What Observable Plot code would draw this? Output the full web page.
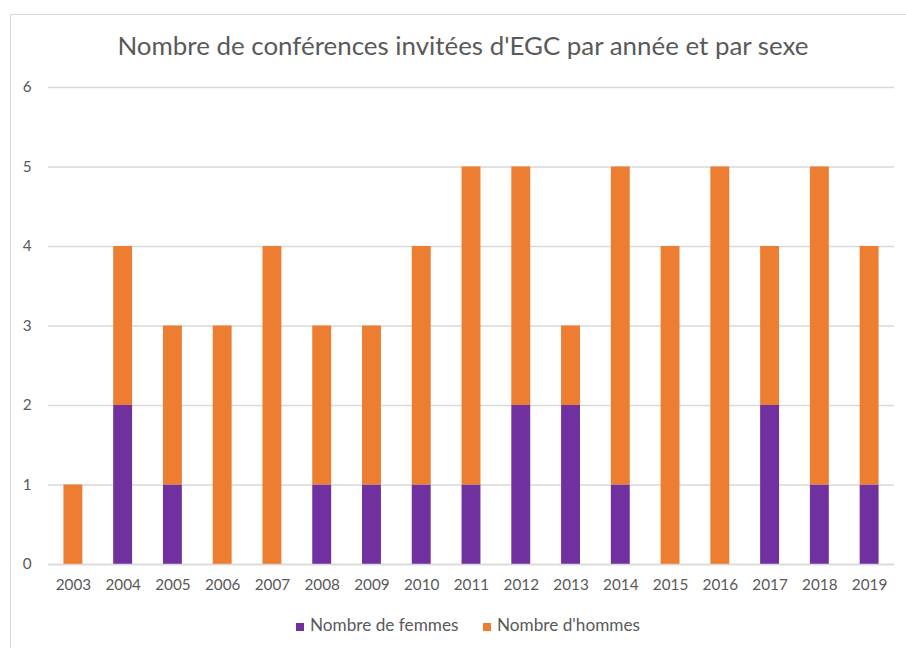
<!DOCTYPE html>
<html><head><meta charset="utf-8">
<script src="https://cdn.jsdelivr.net/npm/d3@7"></script>
<script src="https://cdn.jsdelivr.net/npm/@observablehq/plot@0.6"></script>
<style>
body{margin:0;background:#fff;font-family:Lato,"Open Sans",sans-serif;}
#wrap{position:relative;width:906px;height:648px;overflow:hidden;}
#frame{position:absolute;left:10px;top:14px;width:1000px;height:700px;border:1px solid #d9d9d9;}
#title{position:absolute;left:0;width:926px;top:29px;text-align:center;font-size:25.9px;color:#595959;}
#chart{position:absolute;left:0;top:0;}
#legend{position:absolute;top:614px;left:0;width:906px;font-size:17.2px;color:#595959;}
.li{position:absolute;top:0;white-space:nowrap;}
.sw{display:inline-block;width:8px;height:8px;margin-right:6px;vertical-align:0px;}
</style></head>
<body>
<div id="wrap">
<div id="frame"></div>
<div id="title">Nombre de conférences invitées d'EGC par année et par sexe</div>
<div id="chart"></div>
<div id="legend"></div>
</div>
<script>
const years = ["2003","2004","2005","2006","2007","2008","2009","2010","2011","2012","2013","2014","2015","2016","2017","2018","2019"];
const femmes = [0,2,1,0,0,1,1,1,1,2,2,1,0,0,2,1,1];
const hommes = [1,2,2,3,4,2,2,3,4,3,1,4,4,5,2,4,3];
const seriesNames = ["Nombre de femmes","Nombre d'hommes"];
const seriesColors = ["#7030A0","#ED7D31"];
const yTicks = [0,1,2,3,4,5,6];

const data = [];
years.forEach((y,i)=>{
  data.push({year:y, serie:seriesNames[0], v:femmes[i]});
  data.push({year:y, serie:seriesNames[1], v:hommes[i]});
});

const chart = Plot.plot({
  width: 906,
  height: 610,
  marginTop: 87,
  marginBottom: 46,
  marginLeft: 48,
  marginRight: 12,
  style: {fontFamily: "Lato, 'Open Sans', sans-serif", fontSize: "15.3px", color: "#595959", background: "transparent"},
  x: {domain: years, round: false, paddingInner: 0.62, paddingOuter: 0.31, label: null, tickSize: 0, tickPadding: 15},
  y: {domain: [0,6], ticks: yTicks, tickFormat: "d", label: null, tickSize: 0, tickPadding: 17},
  color: {domain: seriesNames, range: seriesColors},
  marks: [
    Plot.gridY(yTicks, {stroke: "#d9d9d9", strokeOpacity: 1, strokeWidth: 1.3}),
    Plot.barY(data, {x: "year", y: "v", fill: "serie", order: seriesNames}),
    Plot.ruleY([0], {stroke: "#d9d9d9", strokeWidth: 1.3})
  ]
});
document.getElementById("chart").appendChild(chart);

const legend = document.getElementById("legend");
const lefts = [296, 483];
seriesNames.forEach((n,i)=>{
  const d = document.createElement("div");
  d.className = "li";
  d.style.left = lefts[i] + "px";
  d.innerHTML = `<span class="sw" style="background:${seriesColors[i]}"></span>${n}`;
  legend.appendChild(d);
});
</script>
</body></html>
